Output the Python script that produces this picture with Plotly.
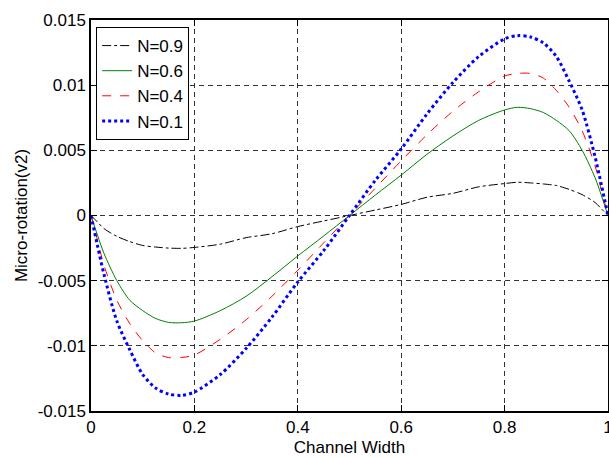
import plotly.graph_objects as go

x_vals = [0, 0.0125, 0.025, 0.05, 0.075, 0.1, 0.125, 0.15, 0.175, 0.2, 0.25, 0.3, 0.35, 0.4, 0.45, 0.5,
          0.55, 0.6, 0.65, 0.7, 0.75, 0.8, 0.825, 0.85, 0.875, 0.9, 0.925, 0.95, 0.975, 0.9875, 1]

n09 = [0, -0.0005, -0.0010, -0.0016, -0.0020, -0.0023, -0.00242, -0.0025, -0.00252, -0.00245,
       -0.0022, -0.0017, -0.0014, -0.00085, -0.00042, 0,
       0.00042, 0.00085, 0.0014, 0.0017, 0.0022, 0.00245, 0.00255, 0.0025, 0.00242, 0.0023,
       0.0020, 0.0016, 0.0010, 0.0005, 0]
n06 = [0, -0.0015, -0.0029, -0.0050, -0.0065, -0.0073, -0.0079, -0.0082, -0.00823, -0.0081,
       -0.0073, -0.0062, -0.0047, -0.0031, -0.00157, 0,
       0.00157, 0.0031, 0.0047, 0.0061, 0.0073, 0.0081, 0.0083, 0.0082, 0.0079, 0.0073,
       0.0065, 0.0050, 0.0029, 0.0015, 0]
n04 = [0, -0.0019, -0.0038, -0.0065, -0.0083, -0.0096, -0.01054, -0.0109, -0.0109, -0.0107,
       -0.0095, -0.0080, -0.0062, -0.0042, -0.0021, 0,
       0.0021, 0.0042, 0.0062, 0.0080, 0.0095, 0.0107, 0.0109, 0.0109, 0.01054, 0.0096,
       0.0083, 0.0065, 0.0038, 0.0019, 0]
n01 = [0, -0.0023, -0.0045, -0.0081, -0.0103, -0.0122, -0.01324, -0.0137, -0.0138, -0.01355,
       -0.0122, -0.0102, -0.0078, -0.0051, -0.0027, 0,
       0.0027, 0.0051, 0.0078, 0.0102, 0.0122, 0.01355, 0.0138, 0.0137, 0.01324, 0.0122,
       0.0103, 0.0081, 0.0045, 0.0023, 0]

series_names = ["N=0.9", "N=0.6", "N=0.4", "N=0.1"]
series_colors = ["#000000", "#008000", "#FF0000", "#0000FF"]
series_dash = ["dashdot", "solid", "dash", "dot"]
series_width = [1, 1, 1, 3]

x_ticks = [0, 0.2, 0.4, 0.6, 0.8, 1]
x_ticktext = ["0", "0.2", "0.4", "0.6", "0.8", "1"]
y_ticks = [-0.015, -0.01, -0.005, 0, 0.005, 0.01, 0.015]
y_ticktext = ["-0.015", "-0.01", "-0.005", "0", "0.005", "0.01", "0.015"]

fig = go.Figure()
for name, ys, c, d, w in zip(series_names, [n09, n06, n04, n01], series_colors, series_dash, series_width):
    fig.add_trace(go.Scatter(x=x_vals, y=ys, mode="lines", name=name,
                             line=dict(color=c, dash=d, width=w, shape="spline", smoothing=0.8)))

font = dict(family="Liberation Sans, Arial, sans-serif", size=17, color="#000000")
axis_common = dict(showline=True, linecolor="#000000", linewidth=1.5, mirror="ticks",
                   ticks="inside", ticklen=6, tickcolor="#000000",
                   showgrid=True, gridcolor="#333333", griddash="5px,4px", gridwidth=1,
                   zeroline=False, tickfont=font, ticklabeloverflow="allow", automargin=False)

fig.update_layout(
    width=609, height=457,
    margin=dict(l=91, r=1, t=20, b=46),
    paper_bgcolor="#FFFFFF", plot_bgcolor="#FFFFFF",
    font=font,
    showlegend=True,
    legend=dict(x=0.01, y=0.982, xanchor="left", yanchor="top",
                bordercolor="#000000", borderwidth=1, bgcolor="#FFFFFF",
                font=font, tracegroupgap=0),
    xaxis=dict(range=[0, 1], tickvals=x_ticks, ticktext=x_ticktext,
               title=dict(text="Channel Width", font=font, standoff=7), **axis_common),
    yaxis=dict(range=[-0.015, 0.015], tickvals=y_ticks, ticktext=y_ticktext,
               title=dict(text="Micro-rotation(v2)", font=font, standoff=6), **axis_common),
)

fig.write_html("out.html")
